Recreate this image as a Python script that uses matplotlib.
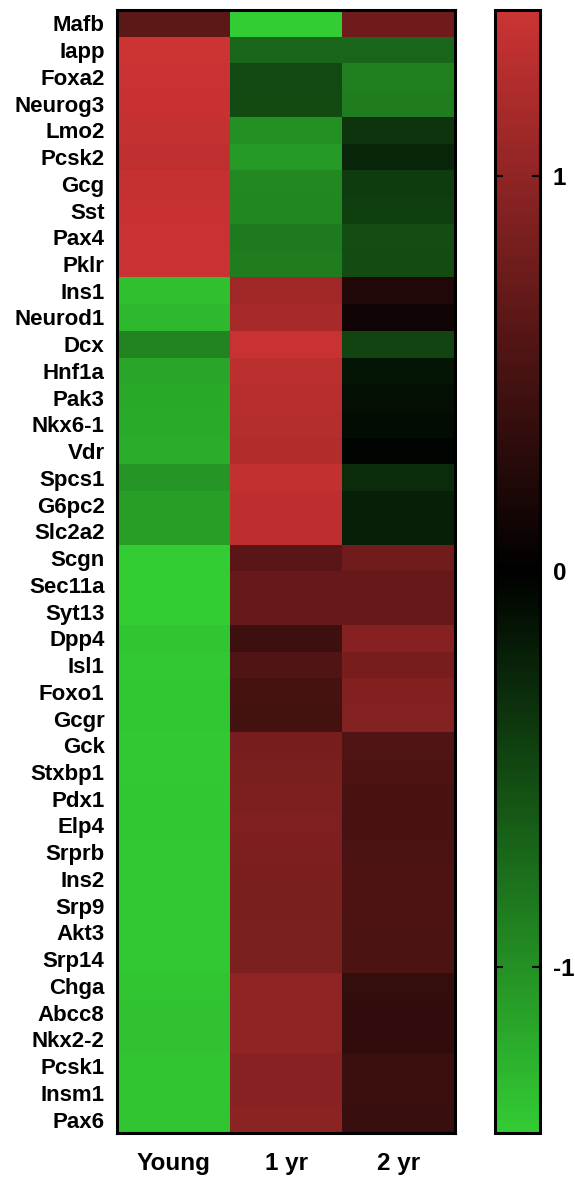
import numpy as np
import matplotlib
matplotlib.use("Agg")
import matplotlib.pyplot as plt
from matplotlib.colors import LinearSegmentedColormap

plt.rcParams['font.family'] = ['Liberation Sans', 'DejaVu Sans']
plt.rcParams['font.weight'] = 'bold'

genes = ["Mafb", "Iapp", "Foxa2", "Neurog3", "Lmo2", "Pcsk2", "Gcg", "Sst", "Pax4", "Pklr",
         "Ins1", "Neurod1", "Dcx", "Hnf1a", "Pak3", "Nkx6-1", "Vdr", "Spcs1", "G6pc2", "Slc2a2",
         "Scgn", "Sec11a", "Syt13", "Dpp4", "Isl1", "Foxo1", "Gcgr", "Gck", "Stxbp1", "Pdx1",
         "Elp4", "Srprb", "Ins2", "Srp9", "Akt3", "Srp14", "Chga", "Abcc8", "Nkx2-2", "Pcsk1",
         "Insm1", "Pax6"]
groups = ["Young", "1 yr", "2 yr"]

# row z-scores per group
young = [0.64, 1.41, 1.39, 1.38, 1.36, 1.33, 1.37, 1.38, 1.39, 1.39,
         -1.33, -1.28, -0.92, -1.15, -1.17, -1.18, -1.20, -1.04, -1.10, -1.10,
         -1.41, -1.41, -1.41, -1.37, -1.39, -1.38, -1.38, -1.39, -1.39, -1.38,
         -1.38, -1.39, -1.39, -1.39, -1.39, -1.39, -1.36, -1.35, -1.35, -1.37,
         -1.37, -1.36]
yr1 = [-1.41, -0.70, -0.50, -0.52, -1.00, -1.07, -0.95, -0.94, -0.85, -0.86,
       1.10, 1.16, 1.39, 1.30, 1.28, 1.26, 1.24, 1.35, 1.32, 1.32,
       0.63, 0.71, 0.70, 0.43, 0.56, 0.48, 0.47, 0.83, 0.85, 0.87,
       0.88, 0.87, 0.85, 0.85, 0.86, 0.86, 1.00, 1.00, 1.00, 0.95,
       0.95, 0.97]
yr2 = [0.77, -0.70, -0.89, -0.86, -0.36, -0.26, -0.42, -0.44, -0.54, -0.53,
       0.23, 0.12, -0.47, -0.15, -0.11, -0.08, -0.04, -0.31, -0.22, -0.22,
       0.78, 0.70, 0.71, 0.94, 0.83, 0.90, 0.91, 0.56, 0.54, 0.51,
       0.50, 0.52, 0.54, 0.54, 0.53, 0.53, 0.36, 0.35, 0.35, 0.42,
       0.42, 0.39]

cbar_ticks = [-1, 0, 1]
vlim = 1.42

data = np.column_stack([young, yr1, yr2])
cmap = LinearSegmentedColormap.from_list("gkr", ["#33cc33", "#000000", "#cc3333"])

fig = plt.figure(figsize=(5.75, 11.77), dpi=100)
ax = fig.add_axes([0.2035, 0.0374, 0.5878, 0.9541])
cax = fig.add_axes([0.8609, 0.0374, 0.0783, 0.9541])

im = ax.imshow(data, cmap=cmap, vmin=-vlim, vmax=vlim, aspect='auto', interpolation='nearest')
ax.set_xticks(range(len(groups)))
ax.set_xticklabels(groups, fontsize=17.5, fontweight='bold')
ax.set_yticks(range(len(genes)))
ax.set_yticklabels(genes, fontsize=16, fontweight='bold')
ax.tick_params(axis='both', length=0)
ax.tick_params(axis='x', pad=14)
ax.tick_params(axis='y', pad=9)
for s in ax.spines.values():
    s.set_linewidth(2.2)

cb = fig.colorbar(im, cax=cax, ticks=cbar_ticks)
cb.outline.set_linewidth(2.2)
cax.tick_params(axis='y', direction='in', left=True, right=True, length=6, width=1.5,
                labelsize=17.5, pad=9)
cax.set_yticklabels([str(t) for t in cbar_ticks], fontweight='bold')

fig.savefig("out.png", dpi=100, facecolor='white')
